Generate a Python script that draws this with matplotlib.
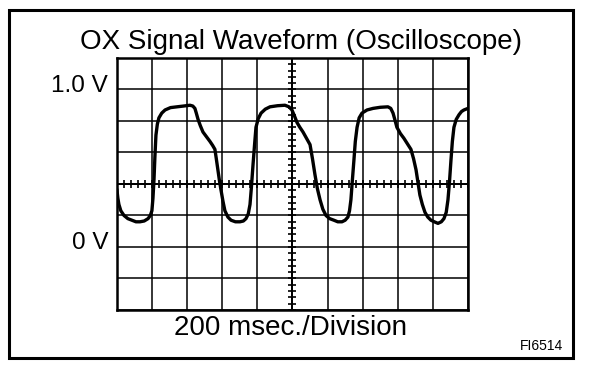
import numpy as np
import matplotlib
matplotlib.use('Agg')
import matplotlib.pyplot as plt
from matplotlib.patches import Rectangle

plt.rcParams['font.family'] = ['Liberation Sans', 'DejaVu Sans']

# waveform: time (ms), voltage (V)
t_ms = [0, 5, 11, 22, 40, 62, 85, 108, 131, 155, 177, 190, 199, 205, 211, 216, 222, 230,
        239, 255, 274, 305, 342, 380, 416, 432, 444, 452, 462, 475, 490, 510, 530, 545,
        558, 566, 575, 584, 593, 604, 615, 632, 650, 675, 701, 720, 735, 748, 758, 766,
        775, 784, 792, 805, 821, 845, 872, 915, 957, 980, 997, 1012, 1026, 1042, 1060,
        1080, 1100, 1114, 1128, 1142, 1157, 1173, 1191, 1212, 1236, 1258, 1282, 1300,
        1316, 1325, 1333, 1341, 1350, 1358, 1368, 1380, 1396, 1425, 1459, 1500, 1544,
        1560, 1573, 1583, 1595, 1615, 1635, 1655, 1675, 1690, 1704, 1715, 1726, 1740,
        1755, 1771, 1789, 1808, 1829, 1848, 1863, 1876, 1886, 1895, 1903, 1911, 1920,
        1933, 1949, 1963, 1977, 2000]
volts = [0.36, 0.31, 0.27, 0.23, 0.20, 0.18, 0.17, 0.16, 0.16, 0.165, 0.18, 0.20, 0.23,
         0.31, 0.43, 0.57, 0.71, 0.78, 0.82, 0.85, 0.87, 0.885, 0.89, 0.895, 0.90, 0.895,
         0.88, 0.85, 0.81, 0.77, 0.73, 0.70, 0.67, 0.645, 0.62, 0.56, 0.49, 0.42, 0.36,
         0.29, 0.23, 0.19, 0.17, 0.16, 0.16, 0.165, 0.18, 0.21, 0.27, 0.38, 0.52, 0.65,
         0.76, 0.815, 0.85, 0.875, 0.89, 0.897, 0.90, 0.89, 0.87, 0.83, 0.79, 0.76, 0.73,
         0.69, 0.65, 0.56, 0.46, 0.37, 0.30, 0.24, 0.20, 0.18, 0.17, 0.16, 0.16, 0.17,
         0.19, 0.23, 0.30, 0.42, 0.55, 0.67, 0.76, 0.82, 0.85, 0.87, 0.88, 0.887, 0.89,
         0.88, 0.85, 0.81, 0.76, 0.72, 0.69, 0.655, 0.62, 0.56, 0.49, 0.41, 0.33, 0.27,
         0.22, 0.19, 0.17, 0.16, 0.15, 0.16, 0.18, 0.22, 0.30, 0.42, 0.55, 0.67, 0.76,
         0.81, 0.84, 0.86, 0.87, 0.88]

volt_labels = ['1.0 V', '0 V']
volt_label_pos = [1.0, 0.0]

fig = plt.figure(figsize=(6.08, 3.72), dpi=100)

# outer box
fig.patches.append(Rectangle((0.0148, 0.0376), 0.9276, 0.9355, transform=fig.transFigure,
                             fill=False, edgecolor='black', linewidth=2.2))

ax = fig.add_axes([0.1924, 0.1667, 0.5773, 0.6774])
ax.set_xlim(0, 2000)
ax.set_ylim(-0.4, 1.2)
ax.set_xticks(np.arange(0, 2001, 200))
ax.set_yticks(np.arange(-0.4, 1.21, 0.2))
ax.grid(True, color='black', linewidth=1.1)
ax.tick_params(length=0, labelbottom=False, labelleft=False)
for s in ax.spines.values():
    s.set_linewidth(1.8)

# centre graticule with minor ticks
ax.axhline(0.4, color='black', linewidth=1.4)
ax.axvline(1000, color='black', linewidth=1.4)
ax.plot(np.arange(0, 2001, 40), np.full(51, 0.4), '|', color='black', ms=6, mew=1.2)
ax.plot(np.full(41, 1000), np.arange(-0.4, 1.21, 0.04), '_', color='black', ms=6, mew=1.2)

ax.plot(t_ms, volts, color='black', linewidth=2.4, solid_joinstyle='round')

for lab, v in zip(volt_labels, volt_label_pos):
    ax.text(-0.025, (v + 0.4) / 1.6 + 0.015, lab, transform=ax.transAxes,
            ha='right', va='center', fontsize=17.5)

fig.text(0.495, 0.888, 'OX Signal Waveform (Oscilloscope)', ha='center', va='center', fontsize=20)
fig.text(0.477, 0.118, '200 msec./Division', ha='center', va='center', fontsize=20)
fig.text(0.926, 0.07, 'FI6514', ha='right', va='center', fontsize=10)

fig.savefig('out.png', dpi=100)
